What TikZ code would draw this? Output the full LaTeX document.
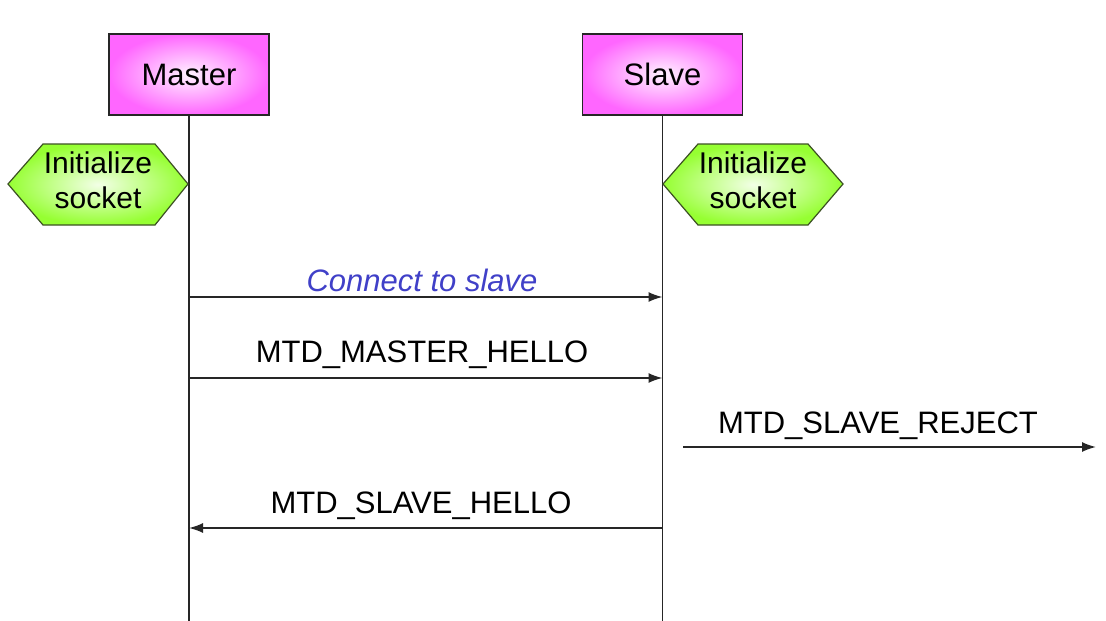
\documentclass[tikz,border=0pt]{standalone}
\usepackage{fontspec}
\setmainfont{Liberation Sans}
\usetikzlibrary{arrows.meta}
\definecolor{boxpink}{RGB}{255,102,255}
\definecolor{hexgreen}{RGB}{150,255,50}
\definecolor{hexedge}{RGB}{60,80,35}
\definecolor{msgblue}{RGB}{64,64,200}
\tikzset{
  actor/.style={draw=black!85, line width=1.4pt, minimum width=160pt,
    minimum height=81pt, inner color=boxpink!8!white, outer color=boxpink,
    font=\fontsize{31}{36}\selectfont},
  lifeline/.style={line width=1.7pt, draw=black!85},
  hexshape/.style={draw=hexedge, line width=1.2pt, inner color=hexgreen!12!white,
    outer color=hexgreen},
  hextext/.style={align=center, inner sep=0pt, font=\fontsize{30}{35}\selectfont},
  msg/.style={line width=1.7pt, draw=black!85, -{Latex[length=14pt,width=10pt]}},
  msglabel/.style={anchor=base, inner sep=0pt, font=\fontsize{31}{36}\selectfont},
}
\begin{document}
\begin{tikzpicture}[x=1pt, y=-1pt]
  \useasboundingbox[fill=white] (0,0) rectangle (1106,621);

  % participants
  \node[actor] (master) at (189,74.5) {Master};
  \node[actor] (slave)  at (662.5,74.5) {Slave};

  % lifelines
  \coordinate (mEnd) at (189,621);
  \coordinate (sEnd) at (662.5,621);
  \draw[lifeline] (master.south) -- (mEnd);
  \draw[lifeline] (slave.south) -- (sEnd);

  % "Initialize socket" hexagons
  \path[hexshape] (8,184) -- (43,144) -- (155,144) -- (188,184)
    -- (155,225) -- (43,225) -- cycle;
  \node[hextext] (initM) at (98,180) {Initialize\\socket};
  \path[hexshape] (663,184) -- (698,144) -- (808,144) -- (843,184)
    -- (808,225) -- (698,225) -- cycle;
  \node[hextext] (initS) at (753,180) {Initialize\\socket};

  % message end points on the lifelines
  \coordinate (m1) at (189,297);   \coordinate (s1) at (662.5,297);
  \coordinate (m2) at (189,378);   \coordinate (s2) at (662.5,378);
  \coordinate (r1) at (683,447);   \coordinate (r2) at (1096,447);
  \coordinate (m4) at (189,528);   \coordinate (s4) at (662.5,528);

  % messages
  \draw[msg] (m1) -- (s1);
  \node[msglabel, text=msgblue, font=\fontsize{31}{36}\selectfont\itshape]
    (lbl1) at (422,291) {Connect to slave};

  \draw[msg] (m2) -- (s2);
  \node[msglabel] (lbl2) at (422,362) {MTD\_MASTER\_HELLO};

  \draw[msg] (r1) -- (r2);
  \node[msglabel] (lbl3) at (878,433) {MTD\_SLAVE\_REJECT};

  \draw[msg] (s4) -- (m4);
  \node[msglabel] (lbl4) at (421,513) {MTD\_SLAVE\_HELLO};
\end{tikzpicture}
\end{document}
